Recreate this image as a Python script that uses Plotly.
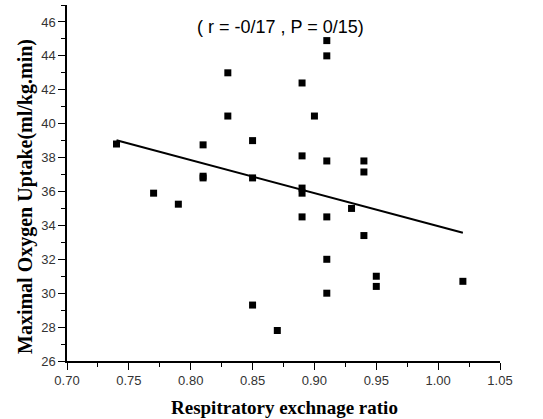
import plotly.graph_objects as go

rer = [0.74, 0.77, 0.79, 0.81, 0.81, 0.81, 0.83, 0.83, 0.85, 0.85, 0.85, 0.87,
       0.89, 0.89, 0.89, 0.89, 0.89, 0.90, 0.91, 0.91, 0.91, 0.91, 0.91, 0.91,
       0.93, 0.94, 0.94, 0.94, 0.95, 0.95, 1.02]
vo2max = [38.8, 35.9, 35.25, 38.75, 36.9, 36.8, 43.0, 40.45, 39.0, 36.8, 29.3, 27.8,
          42.4, 38.1, 36.2, 35.9, 34.5, 40.45, 44.9, 44.0, 37.8, 34.5, 32.0, 30.0,
          35.0, 37.8, 37.15, 33.4, 31.0, 30.4, 30.7]

fit_x = [0.74, 1.02]
fit_y = [39.02, 33.57]

x_ticks = [0.70, 0.75, 0.80, 0.85, 0.90, 0.95, 1.00, 1.05]
x_labels = ["0.70", "0.75", "0.80", "0.85", "0.90", "0.95", "1.00", "1.05"]
y_ticks = [26, 28, 30, 32, 34, 36, 38, 40, 42, 44, 46]

annotation_text = "( r = -0/17 , P = 0/15)"
x_title = "Respitratory exchnage ratio"
y_title = "Maximal Oxygen Uptake(ml/kg.min)"

L, R, T, B = 67, 43, 5, 58
W, H = 543, 419
PW, PH = W - L - R, H - T - B

def px_x(px):
    return (px - L) / PW

def px_y(py):
    return (H - B - py) / PH

fig = go.Figure()
fig.add_trace(go.Scatter(x=fit_x, y=fit_y, mode="lines",
                         line=dict(color="black", width=2), showlegend=False))
fig.add_trace(go.Scatter(x=rer, y=vo2max, mode="markers",
                         marker=dict(symbol="square", size=7, color="black"),
                         showlegend=False))

tickfont = dict(family="Liberation Sans, Arial, sans-serif", size=13, color="#333")

fig.update_layout(
    width=W, height=H,
    margin=dict(l=L, r=R, t=T, b=B),
    paper_bgcolor="white", plot_bgcolor="white",
    xaxis=dict(range=[0.70, 1.05], tickvals=x_ticks, ticktext=x_labels,
               showgrid=False, zeroline=False, showline=True, linecolor="black", linewidth=1.5,
               ticks="outside", ticklen=7, tickwidth=1, tickcolor="black",
               minor=dict(ticks="outside", ticklen=4, tickwidth=1, tickcolor="black", dtick=0.025),
               tickfont=tickfont),
    yaxis=dict(range=[26, 47], tickvals=y_ticks,
               showgrid=False, zeroline=False, showline=True, linecolor="black", linewidth=1.5,
               ticks="outside", ticklen=7, tickwidth=1, tickcolor="black",
               minor=dict(ticks="outside", ticklen=4, tickwidth=1, tickcolor="black", dtick=1),
               tickfont=tickfont),
    annotations=[
        dict(text=annotation_text, x=px_x(280), y=px_y(27), xref="paper", yref="paper",
             showarrow=False, xanchor="center", yanchor="middle",
             font=dict(family="Liberation Sans, Arial, sans-serif", size=18, color="black")),
        dict(text="<b>" + x_title + "</b>", x=px_x(284), y=px_y(407), xref="paper", yref="paper",
             showarrow=False, xanchor="center", yanchor="middle",
             font=dict(family="Liberation Serif, Times New Roman, serif", size=19, color="black")),
        dict(text="<b>" + y_title + "</b>", x=px_x(25), y=px_y(197), xref="paper", yref="paper",
             showarrow=False, xanchor="center", yanchor="middle", textangle=-90,
             font=dict(family="Liberation Serif, Times New Roman, serif", size=20, color="black")),
    ],
)

fig.write_html("out.html", config={"displayModeBar": False},
               post_script="document.body.style.margin='0';document.body.style.overflow='hidden';")
